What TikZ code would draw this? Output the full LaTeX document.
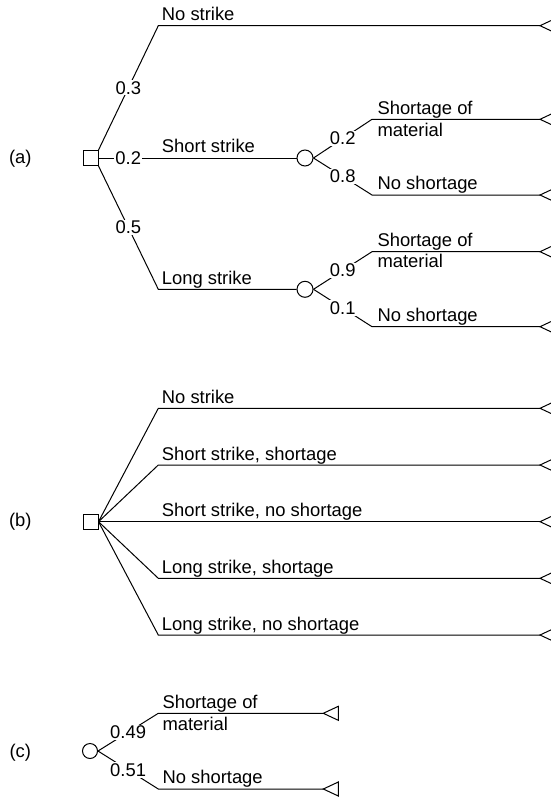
\documentclass[tikz,border=0pt]{standalone}
\usepackage{fontspec}
\setmainfont{Liberation Sans}
\begin{document}
\begin{tikzpicture}[x=1pt,y=-1pt,
  every node/.style={font=\fontsize{18.4}{21.7}\selectfont},
  branch/.style={line width=1pt},
  decision/.style={draw, line width=1pt, rectangle, minimum size=15pt, inner sep=0pt},
  chance/.style={draw, line width=1pt, circle, minimum size=16pt, inner sep=0pt},
  prob/.style={fill=white, inner sep=1pt},
  lbl/.style={anchor=base west, inner sep=0pt, align=left},
  tag/.style={inner sep=0pt},
  pics/endtri/.style={code={\draw[line width=1pt] (0,0) -- (15,-7) -- (15,7) -- cycle;}}
]
\clip (0,0) rectangle (551,798);

% ---------- (a) full tree ----------
\node[tag] (la) at (20.3,159) {(a)};
\node[decision] (d1) at (90.5,158) {};
\node[chance] (c1) at (305,158) {};
\node[chance] (c2) at (305,289.3) {};
\coordinate (a1) at (158.3,25.7);  \coordinate (t1) at (540,25.7);
\coordinate (a3) at (158.3,289.3);
\coordinate (s1) at (372,119.3);   \coordinate (t2) at (540,119.3);
\coordinate (s2) at (372,195);     \coordinate (t3) at (540,195);
\coordinate (s3) at (372,251.7);   \coordinate (t4) at (540,251.7);
\coordinate (s4) at (372,326.7);   \coordinate (t5) at (540,326.7);

\draw[branch] (d1.north east) -- node[prob]{0.3} (a1) -- (t1);
\draw[branch] (d1.east) -- node[prob,pos=0.15]{0.2} (c1.west);
\draw[branch] (d1.south east) -- node[prob]{0.5} (a3) -- (c2.west);
\draw[branch] (c1.east) -- node[prob]{0.2} (s1) -- (t2);
\draw[branch] (c1.east) -- node[prob]{0.8} (s2) -- (t3);
\draw[branch] (c2.east) -- node[prob]{0.9} (s3) -- (t4);
\draw[branch] (c2.east) -- node[prob]{0.1} (s4) -- (t5);

% two-line labels are anchored at the baseline of their last line
\node[lbl] (n1) at (161.7,20.7) {No strike};
\node[lbl] (n2) at (161.7,152.7) {Short strike};
\node[lbl] (n3) at (161.7,284.3) {Long strike};
\node[lbl] (n4) at (377.3,136) {Shortage of\\material};
\node[lbl] (n5) at (377.3,189.3) {No shortage};
\node[lbl] (n6) at (377.3,267.7) {Shortage of\\material};
\node[lbl] (n7) at (377.3,321) {No shortage};

\foreach \t in {t1,t2,t3,t4,t5} \pic at (\t) {endtri};

% ---------- (b) flattened tree ----------
\node[tag] (lb) at (20.3,521.7) {(b)};
\node[decision] (d2) at (90.5,521.7) {};
\foreach \i/\y in {1/408.3,2/465,3/521.7,4/578.3,5/635} {
  \coordinate (b\i) at (158.3,\y);
  \coordinate (u\i) at (540,\y);
  \draw[branch] (d2.east) -- (b\i) -- (u\i);
  \pic at (u\i) {endtri};
}
\node[lbl] (m1) at (161.7,403.3) {No strike};
\node[lbl] (m2) at (161.7,460) {Short strike, shortage};
\node[lbl] (m3) at (161.7,516.7) {Short strike, no shortage};
\node[lbl] (m4) at (161.7,573.3) {Long strike, shortage};
\node[lbl] (m5) at (161.7,630) {Long strike, no shortage};

% ---------- (c) shortage only ----------
\node[tag] (lc) at (20.3,753) {(c)};
\node[chance, minimum size=15pt] (c3) at (90,751) {};
\coordinate (k1) at (158.3,713.3); \coordinate (v1) at (323.3,713.3);
\coordinate (k2) at (158.3,789);   \coordinate (v2) at (323.3,789);
\draw[branch] (c3.east) -- node[prob]{0.49} (k1) -- (v1);
\draw[branch] (c3.east) -- node[prob]{0.51} (k2) -- (v2);
\pic at (v1) {endtri};
\pic at (v2) {endtri};
\node[lbl] (p1) at (162.3,730) {Shortage of\\material};
\node[lbl] (p2) at (162.3,783.3) {No shortage};
\end{tikzpicture}
\end{document}
